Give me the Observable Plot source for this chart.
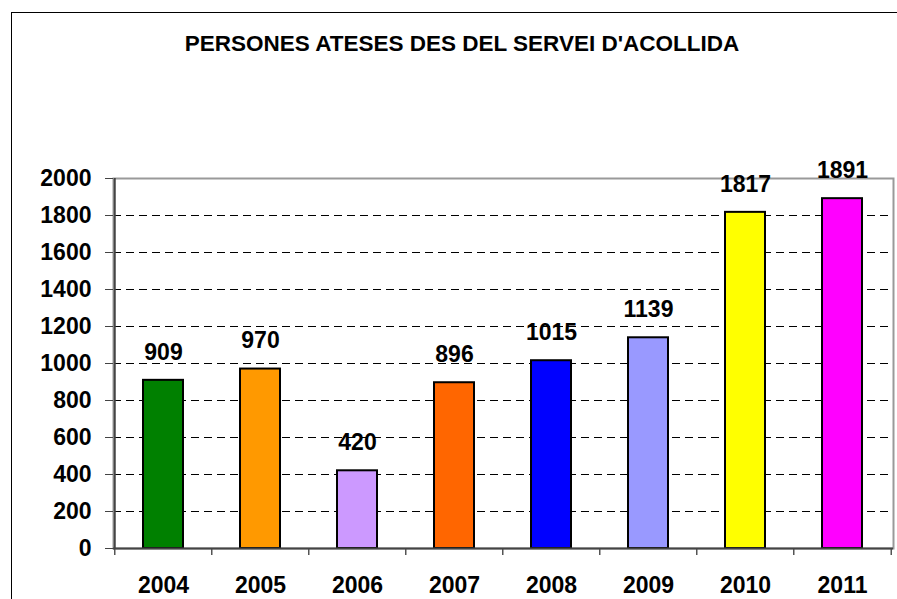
<!DOCTYPE html>
<html>
<head>
<meta charset="utf-8">
<script src="https://cdn.jsdelivr.net/npm/d3@7"></script>
<script src="https://cdn.jsdelivr.net/npm/@observablehq/plot@0.6"></script>
<style>
  html, body { margin: 0; padding: 0; background: #fff; }
  #wrap { position: relative; width: 897px; height: 599px; overflow: hidden; font-family: "Liberation Sans", Arial, sans-serif; }
  #frame { position: absolute; left: 11px; top: 12px; width: 940px; height: 640px; border: 1px solid #000; box-sizing: border-box; }
  #title { position: absolute; left: 0; width: 924px; top: 31px; text-align: center; font-weight: bold; font-size: 22.5px; color: #000; white-space: nowrap; }
  #chart { position: absolute; left: 0; top: 0; }
</style>
</head>
<body>
<div id="wrap">
  <div id="frame"></div>
  <div id="title">PERSONES ATESES DES DEL SERVEI D'ACOLLIDA</div>
  <div id="chart"></div>
</div>
<script>
const years = ["2004", "2005", "2006", "2007", "2008", "2009", "2010", "2011"];
const values = [909, 970, 420, 896, 1015, 1139, 1817, 1891];
const colors = ["#008000", "#FF9900", "#CC99FF", "#FF6600", "#0000FF", "#9999FF", "#FFFF00", "#FF00FF"];
const yTicks = [0, 200, 400, 600, 800, 1000, 1200, 1400, 1600, 1800, 2000];
const gridTicks = [200, 400, 600, 800, 1000, 1200, 1400, 1600, 1800];

const data = years.map((y, i) => ({year: y, value: values[i], color: colors[i]}));

const W = 897, H = 599, ML = 113, MR = 4, MT = 178, MB = 51;
const step = (W - ML - MR) / years.length;
const FS = 23;

const chart = Plot.plot({
  width: W,
  height: H,
  marginLeft: ML,
  marginRight: MR,
  marginTop: MT,
  marginBottom: MB,
  style: {fontFamily: "'Liberation Sans', Arial, sans-serif", fontSize: FS + "px", fontWeight: "bold", color: "#000", background: "transparent"},
  x: {domain: years, paddingInner: 0.585, paddingOuter: 0.2925, align: 0.5, label: null},
  y: {domain: [0, 2000], label: null},
  marks: [
    Plot.ruleY(gridTicks, {stroke: "#000", strokeWidth: 1, strokeDasharray: "8,5"}),
    Plot.frame({stroke: "#999", strokeWidth: 2}),
    Plot.barY(data, {x: "year", y: "value", fill: "color", stroke: "#000", strokeWidth: 2}),
    Plot.text(data, {x: "year", y: "value", text: d => String(d.value), dy: -28, fill: "#000", fontSize: FS, fontWeight: "bold"}),
    Plot.ruleX([years[0]], {x: d => d, dx: -step / 2, stroke: "#444", strokeWidth: 2}),
    Plot.ruleX(years, {x: d => d, dx: -step / 2, y1: 0, y2: -38, stroke: "#555", strokeWidth: 1.5}),
    Plot.ruleX([years[years.length - 1]], {x: d => d, dx: step / 2, y1: 0, y2: -38, stroke: "#555", strokeWidth: 1.5}),
    Plot.ruleY([0], {stroke: "#444", strokeWidth: 2}),
    Plot.axisY({ticks: yTicks, tickSize: 8, tickPadding: 14, stroke: "#444", tickFormat: d => String(d), fill: "#000", fontSize: FS, fontWeight: "bold"}),
    Plot.axisX({tickSize: 0, tickPadding: 28, fill: "#000", fontSize: FS, fontWeight: "bold"})
  ]
});
document.getElementById("chart").appendChild(chart);
</script>
</body>
</html>
